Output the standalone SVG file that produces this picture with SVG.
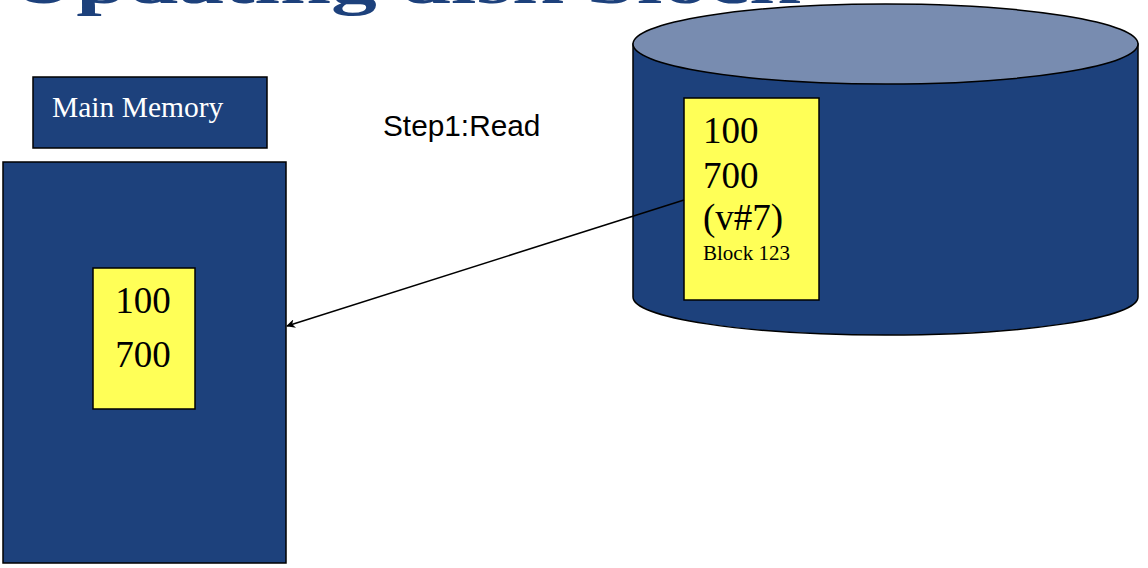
<svg xmlns="http://www.w3.org/2000/svg" width="1148" height="568" viewBox="0 0 1148 568">
<style>
.blue{fill:#1d417c;stroke:#000;stroke-width:1.5}
.top{fill:#788cb0;stroke:#000;stroke-width:1.5}
.yel{fill:#ffff57;stroke:#000;stroke-width:1.5}
.serif{font-family:"Liberation Serif","Times New Roman",serif}
.num{font-family:"Liberation Serif","Times New Roman",serif;font-size:37px;fill:#000}
.conn{stroke:#000;stroke-width:1.5;fill:none}
</style>
<defs>
<marker id="arr" viewBox="0 0 10 10" refX="9" refY="5" markerWidth="9" markerHeight="9" markerUnits="userSpaceOnUse" orient="auto">
<path d="M0,0 L10,5 L0,10 L3,5 Z" fill="#000"/>
</marker>
</defs>
<rect width="1148" height="568" fill="#fff"/>
<text class="serif" x="10" y="3" font-size="62" font-weight="bold" fill="#1d417c" textLength="790" lengthAdjust="spacingAndGlyphs">Updating disk block</text>
<g id="main-memory-label">
<rect class="blue" x="33" y="77" width="234" height="71"/>
<text class="serif" x="52" y="117" font-size="29.5" fill="#fff">Main Memory</text>
</g>
<g id="main-memory">
<rect class="blue" x="3" y="162" width="283" height="401"/>
<rect class="yel" x="93" y="268" width="102" height="141"/>
<text class="num" x="143" y="313" text-anchor="middle" font-size="38">100</text>
<text class="num" x="143" y="367" text-anchor="middle" font-size="38">700</text>
</g>
<g id="step-label">
<text x="383" y="136" font-family="Liberation Sans, Arial, sans-serif" font-size="29.8" fill="#000">Step1:Read</text>
</g>
<g id="disk">
<path class="blue" d="M633,44 L633,297 A252.5,38 0 0 0 1138,297 L1138,44 Z"/>
<ellipse class="top" cx="885.5" cy="44" rx="252.5" ry="40"/>
<rect class="yel" x="684" y="98" width="135" height="202"/>
<text class="num" x="703" y="143" font-size="36">100</text>
<text class="num" x="703" y="188" font-size="36">700</text>
<text class="num" x="703" y="230" font-size="36">(v#7)</text>
<text class="serif" x="703" y="260" font-size="21" fill="#000">Block 123</text>
</g>
<g id="connectors">
<line class="conn" x1="684" y1="200" x2="287" y2="326" marker-end="url(#arr)"/>
</g>
</svg>
